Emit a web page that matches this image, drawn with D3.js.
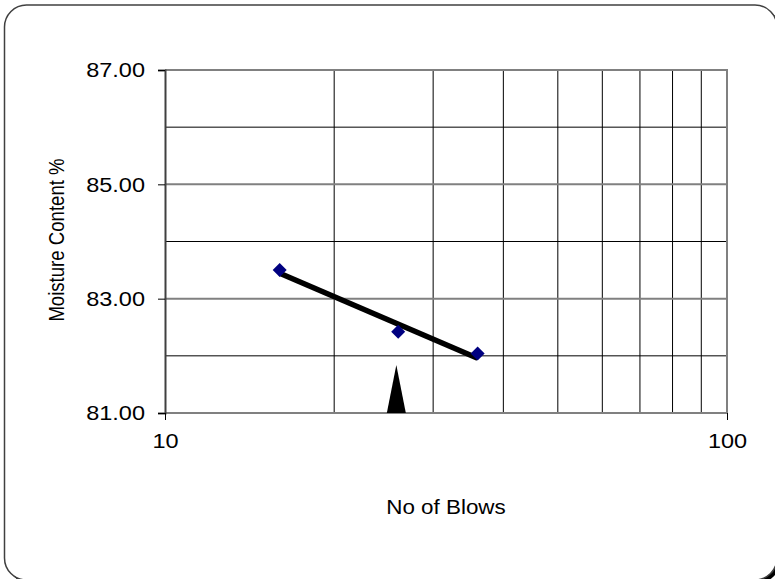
<!DOCTYPE html>
<html>

<head>
    <meta charset="utf-8">
    <script src="https://d3js.org/d3.v7.min.js"></script>
    <style>
        body {
            margin: 0;
            background-color: #ffffff;
        }

        #chart-svg .font {
            font-family: "Liberation Sans", Arial, sans-serif;
            fill: #000000;
        }

        #chart-svg .tick-label {
            font-size: 21px;
        }

        #chart-svg .axis-title {
            font-size: 20px;
        }

        #chart-svg .y-title {
            font-size: 18.6px;
        }

        #chart-svg .major-grid {
            stroke: #808080;
            stroke-width: 2;
        }

        #chart-svg .minor-grid {
            stroke: #000000;
            stroke-width: 1;
        }

        #chart-svg .trend {
            fill: none;
            stroke: #000000;
            stroke-width: 5.5;
        }

        #chart-svg .point {
            fill: #000080;
            stroke: none;
        }
    </style>
</head>

<body>

    <script>
        const SVG_WIDTH = 775;
        const SVG_HEIGHT = 579;

        // data
        const BLOWS = [16, 26, 36];
        const MOISTURE = [83.50, 82.42, 82.04];
        const Y_TICKS = [81, 83, 85, 87];
        const Y_MINOR = [82, 84, 86];
        const X_TICKS = [10, 100];
        const X_GRID = [20, 30, 40, 50, 60, 70, 80, 90];
        const MARKER_BLOWS = 25.8;
        const MARKER_TOP = 81.84;

        const X_TITLE = "No of Blows";
        const Y_TITLE = "Moisture Content %";

        const PLOT_LEFT = 165;
        const PLOT_RIGHT = 727;
        const PLOT_TOP = 70;
        const PLOT_BOTTOM = 413;
        const TEXT_STRETCH = 1.12;

        var svg = d3.select("body").append("svg")
            .attr("width", SVG_WIDTH)
            .attr("height", SVG_HEIGHT)
            .attr("id", "chart-svg");

        // frame with a dark shadow, mostly off the page
        svg.append("rect")
            .attr("x", 7.5)
            .attr("y", 8)
            .attr("width", 772.5)
            .attr("height", 575)
            .attr("rx", 22)
            .attr("fill", "#000000");
        svg.append("rect")
            .attr("x", 4.5)
            .attr("y", 5)
            .attr("width", 772.5)
            .attr("height", 575)
            .attr("rx", 22)
            .attr("fill", "#ffffff")
            .attr("stroke", "#404040")
            .attr("stroke-width", 1.5);

        var xScale = d3.scaleLog()
            .domain([10, 100])
            .range([PLOT_LEFT, PLOT_RIGHT]);
        var yScale = d3.scaleLinear()
            .domain([81, 87])
            .range([PLOT_BOTTOM, PLOT_TOP]);

        // grid
        var grid = svg.append("g");
        grid.selectAll(".vgrid")
            .data(X_GRID)
            .enter()
            .append("line")
            .attr("class", "minor-grid")
            .attr("x1", function(d) { return xScale(d); })
            .attr("x2", function(d) { return xScale(d); })
            .attr("y1", PLOT_TOP)
            .attr("y2", PLOT_BOTTOM);
        grid.selectAll(".hminor")
            .data(Y_MINOR)
            .enter()
            .append("line")
            .attr("class", "minor-grid")
            .attr("x1", PLOT_LEFT)
            .attr("x2", PLOT_RIGHT)
            .attr("y1", function(d) { return yScale(d); })
            .attr("y2", function(d) { return yScale(d); });
        grid.selectAll(".hmajor")
            .data(Y_TICKS)
            .enter()
            .append("line")
            .attr("class", "major-grid")
            .attr("x1", PLOT_LEFT)
            .attr("x2", PLOT_RIGHT)
            .attr("y1", function(d) { return yScale(d); })
            .attr("y2", function(d) { return yScale(d); });
        grid.append("line")
            .attr("class", "major-grid")
            .attr("x1", PLOT_RIGHT)
            .attr("x2", PLOT_RIGHT)
            .attr("y1", PLOT_TOP - 1)
            .attr("y2", PLOT_BOTTOM + 1);

        // axes
        var yAxis = d3.axisLeft(yScale)
            .tickValues(Y_TICKS)
            .tickSize(7)
            .tickPadding(13)
            .tickFormat(d3.format(".2f"));
        var yAxisG = svg.append("g")
            .attr("transform", "translate(" + PLOT_LEFT + ",0)")
            .call(yAxis);
        yAxisG.select(".domain").attr("stroke", "#404040").attr("stroke-width", 2);
        yAxisG.selectAll("text")
            .attr("class", "font tick-label")
            .attr("font-size", null)
            .attr("font-family", null)
            .attr("transform", function() {
                var x = +d3.select(this).attr("x");
                return "translate(" + x + ",0) scale(" + TEXT_STRETCH + ",1) translate(" + (-x) + ",0)";
            });

        var xAxis = d3.axisBottom(xScale)
            .tickValues(X_TICKS)
            .tickSize(7)
            .tickPadding(13)
            .tickFormat(d3.format("d"));
        var xAxisG = svg.append("g")
            .attr("transform", "translate(0," + PLOT_BOTTOM + ")")
            .call(xAxis);
        xAxisG.select(".domain").remove();
        xAxisG.selectAll("text")
            .attr("class", "font tick-label")
            .attr("font-size", null)
            .attr("font-family", null)
            .attr("transform", "scale(" + TEXT_STRETCH + ",1)");

        // titles
        svg.append("text")
            .attr("class", "font axis-title")
            .attr("text-anchor", "middle")
            .attr("transform", "translate(" + (PLOT_LEFT + PLOT_RIGHT) / 2 + ",514) scale(" + TEXT_STRETCH + ",1)")
            .text(X_TITLE);
        svg.append("text")
            .attr("class", "font y-title")
            .attr("text-anchor", "middle")
            .attr("transform", "translate(64," + 240 + ") rotate(-90) scale(1,1.2)")
            .text(Y_TITLE);

        // trend line (least squares on log of blows)
        var lx = BLOWS.map(function(d) { return Math.log10(d); });
        var mx = d3.mean(lx);
        var my = d3.mean(MOISTURE);
        var sxy = 0, sxx = 0;
        for (var i = 0; i < lx.length; i++) {
            sxy += (lx[i] - mx) * (MOISTURE[i] - my);
            sxx += (lx[i] - mx) * (lx[i] - mx);
        }
        var slope = sxy / sxx;
        function fit(b) {
            return my + slope * (Math.log10(b) - mx);
        }
        var xMin = d3.min(BLOWS);
        var xMax = d3.max(BLOWS);
        svg.append("line")
            .attr("class", "trend")
            .attr("x1", xScale(xMin))
            .attr("y1", yScale(fit(xMin)))
            .attr("x2", xScale(xMax))
            .attr("y2", yScale(fit(xMax)));

        // points
        svg.selectAll(".point")
            .data(BLOWS)
            .enter()
            .append("path")
            .attr("class", "point")
            .attr("d", function(d, i) {
                var cx = xScale(d);
                var cy = yScale(MOISTURE[i]);
                var r = 7;
                return "M" + cx + "," + (cy - r) + "L" + (cx + r) + "," + cy +
                    "L" + cx + "," + (cy + r) + "L" + (cx - r) + "," + cy + "Z";
            });

        // pointer at the chosen blow count
        var mX = xScale(MARKER_BLOWS);
        svg.append("path")
            .attr("fill", "#000000")
            .attr("d", "M" + mX + "," + yScale(MARKER_TOP) +
                "L" + (mX + 9.5) + "," + PLOT_BOTTOM +
                "L" + (mX - 9.5) + "," + PLOT_BOTTOM + "Z");
    </script>
</body>

</html>
